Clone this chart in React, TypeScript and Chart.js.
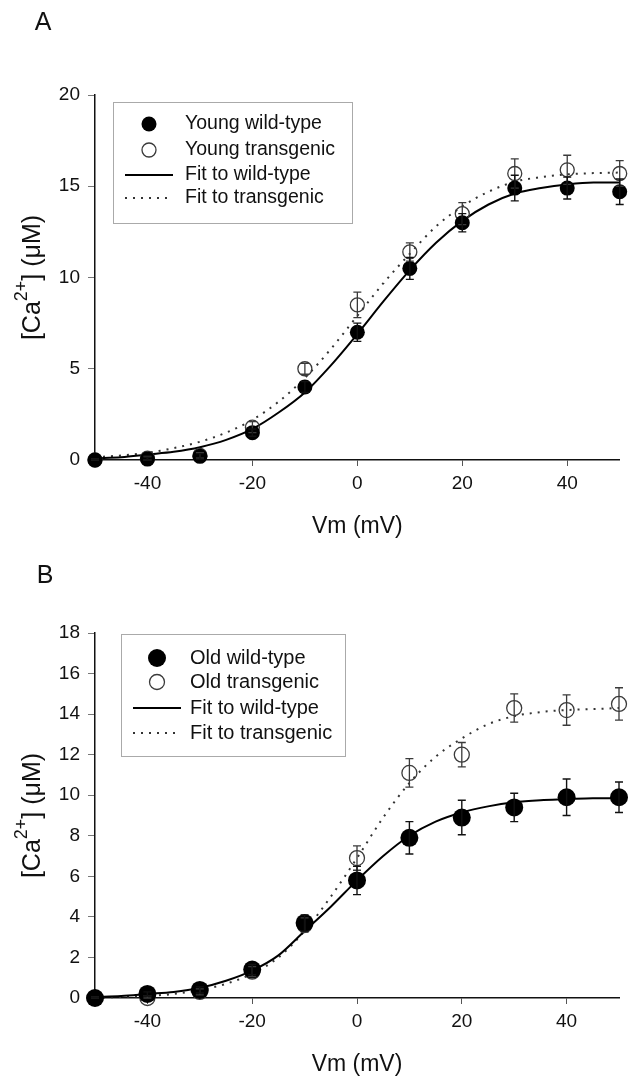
import React, { useEffect, useRef } from 'react';
import { Chart, registerables } from 'chart.js';

Chart.register(...registerables);

const FONT = '"Liberation Sans", Arial, Helvetica, sans-serif';

// ---------- data ----------
const VOLTAGES = [-50, -40, -30, -20, -10, 0, 10, 20, 30, 40, 50];
const FIT_VOLTAGES = [-50, -45, -40, -35, -30, -25, -20, -15, -10, -5, 0, 5, 10, 15, 20, 25, 30, 35, 40, 45, 50];
const X_TICKS = [-40, -20, 0, 20, 40];

// Panel A
const A_LABELS = ['Young wild-type', 'Young transgenic', 'Fit to wild-type', 'Fit to transgenic'];
const A_WT = [0, 0.05, 0.2, 1.5, 4.0, 7.0, 10.5, 13.0, 14.9, 14.9, 14.7];
const A_WT_ERR = [0.05, 0.1, 0.15, 0.2, 0.3, 0.5, 0.6, 0.5, 0.7, 0.6, 0.7];
const A_TG = [0, 0.1, 0.25, 1.8, 5.0, 8.5, 11.4, 13.5, 15.7, 15.9, 15.7];
const A_TG_ERR = [0.05, 0.1, 0.15, 0.3, 0.3, 0.7, 0.5, 0.6, 0.8, 0.8, 0.7];
const A_FIT_WT = [0.1, 0.15, 0.3, 0.45, 0.7, 1.1, 1.7, 2.6, 3.7, 5.2, 6.9, 8.7, 10.4, 11.9, 13.1, 14.0, 14.6, 14.9, 15.1, 15.2, 15.2];
const A_FIT_TG = [0.15, 0.25, 0.4, 0.65, 1.0, 1.5, 2.2, 3.2, 4.5, 6.1, 7.9, 9.7, 11.3, 12.8, 13.9, 14.7, 15.25, 15.5, 15.65, 15.72, 15.75];
const A_Y_TICKS = [0, 5, 10, 15, 20];

// Panel B
const B_LABELS = ['Old wild-type', 'Old transgenic', 'Fit to wild-type', 'Fit to transgenic'];
const B_WT = [0, 0.2, 0.4, 1.4, 3.7, 5.8, 7.9, 8.9, 9.4, 9.9, 9.9];
const B_WT_ERR = [0.05, 0.1, 0.15, 0.25, 0.4, 0.7, 0.8, 0.85, 0.7, 0.9, 0.75];
const B_TG = [0, 0.0, 0.3, 1.3, 3.6, 6.9, 11.1, 12.0, 14.3, 14.2, 14.5];
const B_TG_ERR = [0.05, 0.1, 0.15, 0.25, 0.35, 0.6, 0.7, 0.6, 0.7, 0.75, 0.8];
const B_FIT_WT = [0.05, 0.1, 0.2, 0.3, 0.5, 0.85, 1.35, 2.1, 3.3, 4.5, 5.8, 7.0, 8.0, 8.7, 9.15, 9.45, 9.65, 9.75, 9.8, 9.85, 9.85];
const B_FIT_TG = [0.02, 0.05, 0.1, 0.2, 0.4, 0.7, 1.2, 2.0, 3.3, 5.0, 6.9, 8.9, 10.6, 11.9, 12.8, 13.5, 13.9, 14.1, 14.2, 14.25, 14.3];
const B_Y_TICKS = [0, 2, 4, 6, 8, 10, 12, 14, 16, 18];

type Panel = {
  letter: string;
  letterX: number;
  letterY: number;
  height: number;
  top: number;
  bottom: number;
  xTitleY: number;
  labels: string[];
  wt: number[];
  wtErr: number[];
  tg: number[];
  tgErr: number[];
  fitWt: number[];
  fitTg: number[];
  yTicks: number[];
  filledR: number;
  openR: number;
  legend: { x0: number; y0: number; x1: number; y1: number; rows: number[]; markerX: number; lineX0: number; lineX1: number; textX: number; fontSize: number };
};

const PANEL_A: Panel = {
  letter: 'A', letterX: 43, letterY: 23, height: 540, top: 95, bottom: 460, xTitleY: 527,
  labels: A_LABELS, wt: A_WT, wtErr: A_WT_ERR, tg: A_TG, tgErr: A_TG_ERR, fitWt: A_FIT_WT, fitTg: A_FIT_TG,
  yTicks: A_Y_TICKS, filledR: 7.5, openR: 7.5,
  legend: { x0: 113, y0: 102, x1: 352, y1: 223, rows: [124, 150, 175, 198], markerX: 149, lineX0: 125, lineX1: 173, textX: 185, fontSize: 19.5 },
};

const PANEL_B: Panel = {
  letter: 'B', letterX: 45, letterY: 36, height: 536, top: 93, bottom: 458, xTitleY: 525,
  labels: B_LABELS, wt: B_WT, wtErr: B_WT_ERR, tg: B_TG, tgErr: B_TG_ERR, fitWt: B_FIT_WT, fitTg: B_FIT_TG,
  yTicks: B_Y_TICKS, filledR: 9, openR: 8,
  legend: { x0: 121, y0: 94, x1: 345, y1: 216, rows: [118, 142, 168, 193], markerX: 157, lineX0: 133, lineX1: 181, textX: 190, fontSize: 20 },
};

function buildConfig(p: Panel): any {
  const yMax = p.yTicks[p.yTicks.length - 1];
  const errorBars = {
    id: 'errorBars',
    afterDatasetsDraw(chart: any) {
      const ctx = chart.ctx;
      const xs = chart.scales.x;
      const ys = chart.scales.y;
      const series = [
        { vals: p.tg, errs: p.tgErr, color: '#3a3a3a', w: 1.3 },
        { vals: p.wt, errs: p.wtErr, color: '#111', w: 1.4 },
      ];
      ctx.save();
      series.forEach((s) => {
        ctx.strokeStyle = s.color;
        ctx.lineWidth = s.w;
        VOLTAGES.forEach((v, i) => {
          const x = xs.getPixelForValue(v);
          const yT = ys.getPixelForValue(s.vals[i] + s.errs[i]);
          const yB = ys.getPixelForValue(Math.max(0, s.vals[i] - s.errs[i]));
          ctx.beginPath();
          ctx.moveTo(x, yT); ctx.lineTo(x, yB);
          ctx.moveTo(x - 4, yT); ctx.lineTo(x + 4, yT);
          ctx.moveTo(x - 4, yB); ctx.lineTo(x + 4, yB);
          ctx.stroke();
        });
      });
      ctx.restore();
    },
  };

  const decorations = {
    id: 'decorations',
    afterDraw(chart: any) {
      const ctx = chart.ctx;
      const area = chart.chartArea;
      ctx.save();
      ctx.fillStyle = '#111';
      // panel letter
      ctx.font = `25px ${FONT}`;
      ctx.textAlign = 'center';
      ctx.textBaseline = 'middle';
      ctx.fillText(p.letter, p.letterX, p.letterY);
      // x title
      ctx.font = `23px ${FONT}`;
      ctx.fillText('Vm (mV)', (area.left + area.right) / 2, p.xTitleY);
      // y title with superscript
      const midY = (area.top + area.bottom) / 2;
      const big = `25px ${FONT}`;
      const small = `18px ${FONT}`;
      const parts = [
        { t: '[Ca', f: big, dy: 0 },
        { t: '2+', f: small, dy: -11 },
        { t: '] (\u03BCM)', f: big, dy: 0 },
      ];
      let total = 0;
      parts.forEach((pt) => { ctx.font = pt.f; total += ctx.measureText(pt.t).width; });
      ctx.translate(33, midY);
      ctx.rotate(-Math.PI / 2);
      ctx.textAlign = 'left';
      let cx = -total / 2;
      parts.forEach((pt) => {
        ctx.font = pt.f;
        ctx.fillText(pt.t, cx, pt.dy);
        cx += ctx.measureText(pt.t).width;
      });
      ctx.restore();

      // legend
      const L = p.legend;
      const ds = chart.data.datasets;
      ctx.save();
      ctx.strokeStyle = '#555';
      ctx.lineWidth = 1;
      ctx.setLineDash([1, 1]);
      ctx.strokeRect(L.x0 + 0.5, L.y0 + 0.5, L.x1 - L.x0, L.y1 - L.y0);
      ctx.setLineDash([]);
      // filled marker
      ctx.fillStyle = '#000';
      ctx.beginPath(); ctx.arc(L.markerX, L.rows[0], p.filledR, 0, Math.PI * 2); ctx.fill();
      // open marker
      ctx.strokeStyle = '#3a3a3a';
      ctx.lineWidth = 1.3;
      ctx.beginPath(); ctx.arc(L.markerX, L.rows[1], p.openR - 0.5, 0, Math.PI * 2); ctx.stroke();
      // solid line
      ctx.strokeStyle = '#000';
      ctx.lineWidth = 2;
      ctx.beginPath(); ctx.moveTo(L.lineX0, L.rows[2]); ctx.lineTo(L.lineX1, L.rows[2]); ctx.stroke();
      // dotted line
      ctx.strokeStyle = '#333';
      ctx.setLineDash([2, 6]);
      ctx.beginPath(); ctx.moveTo(L.lineX0, L.rows[3]); ctx.lineTo(L.lineX1, L.rows[3]); ctx.stroke();
      ctx.setLineDash([]);
      // texts
      ctx.fillStyle = '#111';
      ctx.font = `${L.fontSize}px ${FONT}`;
      ctx.textAlign = 'left';
      ctx.textBaseline = 'middle';
      ds.forEach((d: any, i: number) => ctx.fillText(d.label, L.textX, L.rows[i]));
      ctx.restore();
    },
  };

  return {
    type: 'scatter',
    data: {
      datasets: [
        {
          label: p.labels[0],
          data: VOLTAGES.map((x, i) => ({ x, y: p.wt[i] })),
          backgroundColor: '#000', borderColor: '#000', borderWidth: 0,
          pointRadius: p.filledR, pointHoverRadius: p.filledR,
          showLine: false, order: 0, clip: false,
        },
        {
          label: p.labels[1],
          data: VOLTAGES.map((x, i) => ({ x, y: p.tg[i] })),
          backgroundColor: 'rgba(0,0,0,0)', borderColor: '#3a3a3a', borderWidth: 1.3,
          pointRadius: p.openR - 0.5, pointHoverRadius: p.openR - 0.5,
          showLine: false, order: 1, clip: false,
        },
        {
          label: p.labels[2],
          data: FIT_VOLTAGES.map((x, i) => ({ x, y: p.fitWt[i] })),
          showLine: true, pointRadius: 0, borderColor: '#000', borderWidth: 2,
          cubicInterpolationMode: 'monotone', order: 2, clip: false,
        },
        {
          label: p.labels[3],
          data: FIT_VOLTAGES.map((x, i) => ({ x, y: p.fitTg[i] })),
          showLine: true, pointRadius: 0, borderColor: '#333', borderWidth: 2,
          borderDash: [2, 6], cubicInterpolationMode: 'monotone', order: 3, clip: false,
        },
      ],
    },
    options: {
      responsive: false,
      animation: false,
      devicePixelRatio: 1,
      events: [],
      layout: { padding: { top: p.top, right: 8, left: 0, bottom: 0 } },
      plugins: { legend: { display: false }, tooltip: { enabled: false } },
      scales: {
        x: {
          type: 'linear', min: -50, max: 50,
          afterBuildTicks: (s: any) => { s.ticks = X_TICKS.map((v) => ({ value: v })); },
          afterFit: (s: any) => { s.height = p.height - p.bottom; },
          grid: { display: true, drawOnChartArea: false, drawTicks: true, tickLength: 6, color: '#555', lineWidth: 1 },
          border: { display: true, color: '#111', width: 1.5 },
          ticks: { font: { family: FONT, size: 19 }, color: '#111', padding: 6, maxRotation: 0, autoSkip: false },
        },
        y: {
          type: 'linear', min: 0, max: yMax,
          afterBuildTicks: (s: any) => { s.ticks = p.yTicks.map((v) => ({ value: v })); },
          afterFit: (s: any) => { s.width = 95; },
          grid: { display: true, drawOnChartArea: false, drawTicks: true, tickLength: 7, color: '#777', lineWidth: 1 },
          border: { display: true, color: '#111', width: 1.5 },
          ticks: { font: { family: FONT, size: 19 }, color: '#111', padding: 8, autoSkip: false },
        },
      },
    },
    plugins: [errorBars, decorations],
  };
}

function PanelChart({ panel, top }: { panel: Panel; top: number }) {
  const ref = useRef<HTMLCanvasElement | null>(null);
  useEffect(() => {
    if (!ref.current) return;
    const chart = new Chart(ref.current, buildConfig(panel));
    return () => chart.destroy();
  }, [panel]);
  return (
    <canvas
      ref={ref}
      width={628}
      height={panel.height}
      style={{ position: 'absolute', left: 0, top, width: 628, height: panel.height }}
    />
  );
}

export default function App() {
  return (
    <div style={{ position: 'absolute', left: 0, top: 0, width: 628, height: 1076, background: '#fff' }}>
      <PanelChart panel={PANEL_A} top={0} />
      <PanelChart panel={PANEL_B} top={540} />
    </div>
  );
}
